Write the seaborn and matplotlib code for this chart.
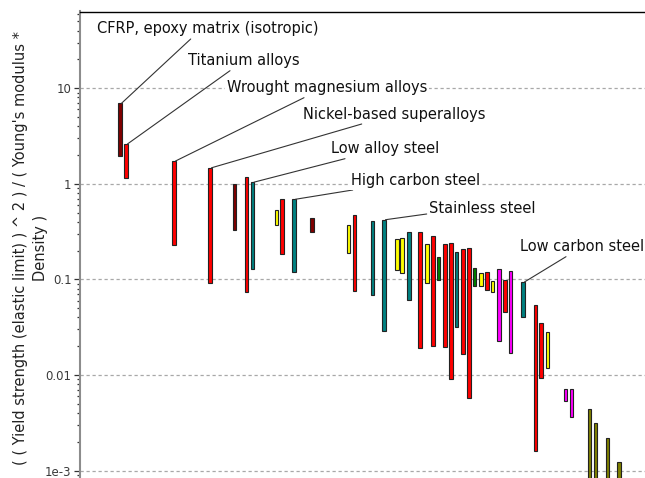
import numpy as np
import pandas as pd
import matplotlib
matplotlib.use("Agg")
import matplotlib.pyplot as plt
import seaborn as sns

# ---------------- data ----------------
# position of each bar along the (unlabelled) horizontal axis
bar_pos = [40, 46, 94, 130, 154.5, 166.5, 172.5, 196.3, 202, 214, 232,
           268.3, 274.5, 292.5, 304, 317, 322, 329, 340, 347, 353, 358.7,
           365, 371, 376.7, 383, 389, 394.7, 401, 407, 412.7, 419, 425,
           430.7, 443, 455.4, 461, 467.3, 485.3, 491.5, 509.5, 515.2,
           527.5, 539]
bar_high = [6.95, 2.61, 1.73, 1.47, 0.99, 1.19, 1.04, 0.532, 0.689, 0.689,
            0.436, 0.371, 0.472, 0.411, 0.421, 0.265, 0.271, 0.315, 0.315,
            0.2346, 0.2845, 0.1716, 0.2346, 0.2404, 0.195, 0.208, 0.2115,
            0.1325, 0.116, 0.1195, 0.0962, 0.1276, 0.0986, 0.1224, 0.094,
            0.054, 0.0352, 0.0284, 0.00719, 0.00719, 0.00441, 0.00315,
            0.00218, 0.00124]
bar_low = [1.97, 1.14, 0.227, 0.091, 0.329, 0.0733, 0.129, 0.373, 0.183,
           0.120, 0.313, 0.190, 0.0762, 0.0692, 0.0286, 0.125, 0.1175,
           0.0609, 0.0190, 0.0924, 0.0201, 0.0993, 0.0198, 0.00908, 0.032,
           0.0166, 0.0057, 0.0853, 0.0853, 0.0775, 0.0744, 0.0225, 0.0453,
           0.0170, 0.0407, 0.00161, 0.00923, 0.01175, 0.00535, 0.00366,
           0.0005, 0.0005, 0.0005, 0.0005]
bar_group = ["composite", "nonferrous", "nonferrous", "nonferrous",
             "composite", "nonferrous", "steel", "polymer", "nonferrous",
             "steel", "composite", "polymer", "nonferrous", "steel", "steel",
             "polymer", "polymer", "steel", "nonferrous", "polymer",
             "nonferrous", "wood", "nonferrous", "nonferrous", "steel",
             "nonferrous", "nonferrous", "wood", "polymer", "nonferrous",
             "polymer", "ceramic", "nonferrous", "ceramic", "steel",
             "nonferrous", "nonferrous", "polymer", "ceramic", "ceramic",
             "foam", "foam", "foam", "foam"]
group_colors = {"composite": "#800000", "nonferrous": "#FF0000",
                "steel": "#008080", "polymer": "#FFFF00", "wood": "#008000",
                "ceramic": "#FF00FF", "foam": "#808000"}

label_bar = [0, 1, 2, 3, 6, 9, 14, 34]
label_text = ["CFRP, epoxy matrix (isotropic)", "Titanium alloys",
              "Wrought magnesium alloys", "Nickel-based superalloys",
              "Low alloy steel", "High carbon steel", "Stainless steel",
              "Low carbon steel"]
ytick_vals = [1e-3, 0.01, 0.1, 1, 10]
ytick_labels = ["1e-3", "0.01", "0.1", "1", "10"]
ylabel = "( ( Yield strength (elastic limit) ) ^ 2 ) / ( Young's modulus *\nDensity )"

df = pd.DataFrame({"pos": bar_pos, "high": bar_high, "low": bar_low,
                   "group": bar_group})

# ---------------- layout ----------------
W, H = 645, 478
sns.set_theme(style="white")
plt.rcParams["font.family"] = ["DejaVu Sans"]
fig = plt.figure(figsize=(W / 100, H / 100), dpi=100)
ax = fig.add_axes([80 / W, 0.0, 565 / W, 1 - 11.5 / H])

ax.set_yscale("log")
ax.set_xlim(0, 565)
ax.set_ylim(8.37e-4, 63.4)

ax.bar(df["pos"], df["high"] - df["low"], bottom=df["low"], width=3.4,
       color=[group_colors[g] for g in df["group"]], edgecolor="#222222",
       linewidth=0.8, align="center", zorder=3)

ax.set_axisbelow(True)
ax.yaxis.grid(True, which="major", linestyle=(0, (2.6, 2.2)), color="#a8a8a8",
              linewidth=0.9)
ax.xaxis.grid(False)
ax.set_xticks([])
ax.set_yticks(ytick_vals)
ax.set_yticklabels(ytick_labels, fontsize=8.5, color="#3a3a3a")
ax.yaxis.set_minor_locator(matplotlib.ticker.LogLocator(base=10, subs=np.arange(2, 10)))
ax.yaxis.set_minor_formatter(matplotlib.ticker.NullFormatter())
ax.tick_params(axis="y", which="major", left=True, length=4, width=0.9,
               color="#333333", pad=2)
ax.tick_params(axis="y", which="minor", left=True, length=2.5, width=0.9,
               color="#333333")

for s in ["right", "bottom"]:
    ax.spines[s].set_visible(False)
ax.spines["left"].set_color("#8c8c8c")
ax.spines["left"].set_linewidth(1.5)
ax.spines["top"].set_color("#000000")
ax.spines["top"].set_linewidth(1.0)

ax.set_ylabel(ylabel, fontsize=10.5, color="#222222", labelpad=0,
              linespacing=1.45)
ax.yaxis.set_label_coords(-32 / 565, 0.493)

# annotation layout (pixels from top-left of the figure)
line_end = [(190.7, 39), (230, 70.7), (304, 97.7), (361.7, 124),
            (345, 158.7), (352.7, 190), (426.7, 214), (566, 256.7)]
text_at = [(97, 29), (188, 60.3), (226.7, 87.3), (303, 114.3),
           (331, 149), (350.7, 181), (429, 208.3), (520, 246.7)]

for bi, txt, (lx, ly), (tx, ty) in zip(label_bar, label_text, line_end, text_at):
    ax.annotate("", xy=(df["pos"][bi] + 1.5, df["high"][bi]), xycoords="data",
                xytext=(lx, H - ly), textcoords="figure pixels",
                arrowprops=dict(arrowstyle="-", color="#333333", lw=0.8,
                                shrinkA=0, shrinkB=0), zorder=4)
    fig.text(tx / W, 1 - ty / H, txt, ha="left", va="center", fontsize=10.5,
             color="#111111",
             bbox=dict(facecolor="white", edgecolor="none", pad=1.0))

fig.savefig("out.png", dpi=100)
